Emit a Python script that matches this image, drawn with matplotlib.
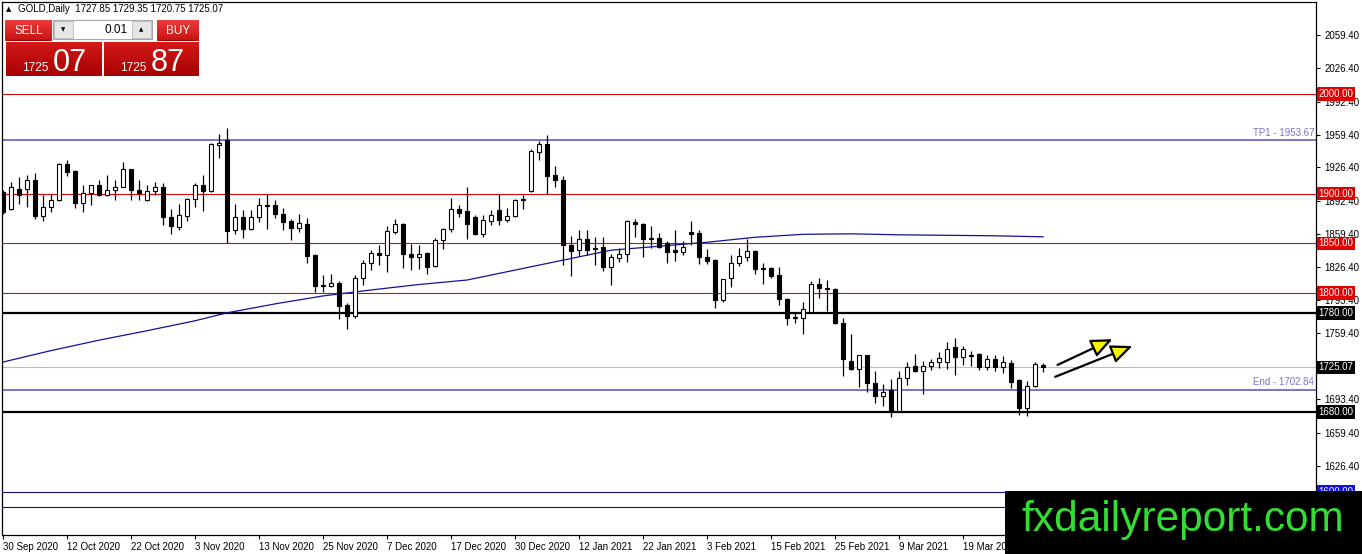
import matplotlib
matplotlib.use("Agg")
import matplotlib.pyplot as plt
import numpy as np
from matplotlib.patches import Rectangle
from matplotlib.colors import LinearSegmentedColormap

plt.rcParams['font.family'] = ['Liberation Sans', 'DejaVu Sans']

# daily OHLC, 30 Sep 2020 onwards
opens = [1901.7, 1884.2, 1905.0, 1905.0, 1913.5, 1877.8, 1886.5, 1893.3, 1929.6, 1922.5,
         1890.6, 1900.7, 1908.4, 1899.0, 1903.4, 1906.7, 1924.2, 1904.0, 1893.3, 1902.4,
         1906.1, 1876.5, 1866.4, 1877.1, 1895.0, 1909.1, 1902.7, 1948.4, 1953.9, 1863.0,
         1876.5, 1864.7, 1876.5, 1888.9, 1888.9, 1879.8, 1872.4, 1865.7, 1869.7, 1837.8,
         1808.0, 1806.8, 1810.2, 1788.3, 1776.5, 1815.2, 1830.4, 1840.5, 1838.4, 1861.3,
         1869.7, 1839.4, 1836.1, 1840.5, 1827.0, 1852.9, 1864.0, 1884.9, 1882.2, 1876.5,
         1859.6, 1872.4, 1883.2, 1873.1, 1877.5, 1893.6, 1902.7, 1942.0, 1949.8, 1918.5,
         1914.1, 1847.9, 1842.8, 1854.6, 1845.5, 1846.6, 1826.5, 1835.5, 1838.9, 1871.5,
         1869.8, 1855.4, 1855.0, 1850.0, 1842.9, 1841.6, 1861.8, 1860.1, 1836.5, 1833.2,
         1792.5, 1814.7, 1829.8, 1836.5, 1842.3, 1824.8, 1824.8, 1818.0, 1794.2, 1775.7,
         1775.0, 1780.7, 1808.6, 1804.6, 1804.2, 1769.3, 1732.0, 1723.8, 1737.1, 1709.3,
         1696.5, 1702.5, 1681.3, 1714.3, 1726.1, 1721.7, 1726.1, 1730.5, 1730.5, 1745.3,
         1735.2, 1737.8, 1738.5, 1725.4, 1733.8, 1725.4, 1729.4, 1712.0, 1684.0, 1706.6,
         1727.85]
highs = [1903.5, 1911.8, 1916.8, 1918.5, 1920.9, 1898.3, 1899.3, 1931.0, 1933.6, 1923.5,
         1908.4, 1909.0, 1913.5, 1918.5, 1914.1, 1932.0, 1925.2, 1914.1, 1908.4, 1911.8,
         1910.8, 1884.9, 1889.2, 1896.0, 1910.8, 1918.5, 1950.5, 1960.0, 1965.6, 1889.9,
         1883.9, 1883.9, 1896.0, 1899.3, 1893.9, 1885.5, 1874.8, 1879.8, 1875.8, 1838.8,
         1817.6, 1818.6, 1812.5, 1789.7, 1817.6, 1833.4, 1843.5, 1847.9, 1867.0, 1874.8,
         1870.5, 1849.5, 1847.9, 1841.1, 1855.6, 1865.7, 1896.0, 1888.2, 1906.1, 1878.1,
         1878.1, 1883.2, 1899.3, 1885.9, 1894.6, 1898.3, 1944.4, 1953.2, 1958.9, 1927.6,
         1917.5, 1857.0, 1863.0, 1863.0, 1856.3, 1856.4, 1838.9, 1845.6, 1873.2, 1874.2,
         1870.5, 1867.5, 1860.8, 1852.4, 1863.1, 1852.4, 1871.9, 1863.5, 1844.6, 1833.9,
         1814.3, 1837.9, 1845.6, 1854.0, 1842.9, 1830.5, 1826.1, 1826.1, 1794.5, 1780.0,
         1790.8, 1812.0, 1814.7, 1812.7, 1804.6, 1775.0, 1759.1, 1737.6, 1738.0, 1721.8,
         1708.0, 1713.6, 1721.0, 1730.5, 1738.9, 1731.8, 1733.8, 1740.5, 1750.7, 1754.7,
         1746.3, 1741.9, 1739.2, 1737.9, 1737.9, 1736.2, 1732.8, 1713.6, 1711.0, 1730.5,
         1729.35]
lows = [1879.8, 1883.2, 1889.9, 1886.5, 1874.4, 1872.4, 1881.5, 1892.6, 1917.8, 1885.5,
        1881.5, 1888.2, 1897.3, 1897.3, 1893.3, 1906.1, 1893.9, 1893.9, 1892.6, 1898.3,
        1868.0, 1859.6, 1863.0, 1872.4, 1886.5, 1882.5, 1901.7, 1935.3, 1850.5, 1859.6,
        1855.6, 1863.0, 1871.4, 1864.7, 1875.8, 1863.0, 1852.9, 1861.3, 1830.4, 1800.8,
        1800.8, 1805.8, 1773.8, 1763.8, 1774.9, 1807.5, 1822.6, 1827.7, 1821.0, 1859.6,
        1825.3, 1822.6, 1823.6, 1818.6, 1826.0, 1843.8, 1861.3, 1876.5, 1854.6, 1857.9,
        1856.3, 1868.0, 1868.0, 1871.4, 1876.5, 1884.9, 1902.0, 1933.6, 1900.0, 1906.7,
        1827.7, 1816.9, 1836.8, 1837.8, 1827.7, 1822.1, 1808.0, 1831.2, 1831.2, 1856.4,
        1836.2, 1845.0, 1845.6, 1830.5, 1832.2, 1838.2, 1848.3, 1828.8, 1828.8, 1784.4,
        1791.1, 1806.3, 1827.5, 1832.2, 1819.4, 1809.3, 1814.7, 1787.8, 1767.6, 1769.9,
        1758.8, 1780.0, 1794.5, 1781.7, 1768.9, 1716.0, 1722.8, 1705.6, 1700.2, 1689.1,
        1686.6, 1675.6, 1680.0, 1706.9, 1720.4, 1698.2, 1722.0, 1724.4, 1723.4, 1717.7,
        1727.8, 1726.1, 1722.7, 1722.0, 1721.0, 1719.4, 1704.2, 1677.3, 1676.6, 1705.2,
        1720.75]
closes = [1881.5, 1906.1, 1899.0, 1913.5, 1877.1, 1886.5, 1893.3, 1929.6, 1921.9, 1890.6,
          1900.7, 1908.4, 1899.0, 1904.0, 1906.1, 1924.2, 1904.0, 1900.7, 1902.4, 1906.7,
          1876.5, 1867.7, 1878.5, 1895.0, 1909.1, 1902.7, 1949.5, 1950.5, 1862.3, 1876.5,
          1864.7, 1876.5, 1888.9, 1887.6, 1879.8, 1871.4, 1865.7, 1870.4, 1837.1, 1806.8,
          1807.2, 1810.2, 1786.6, 1776.5, 1815.2, 1830.4, 1840.1, 1838.4, 1862.0, 1869.7,
          1839.4, 1836.1, 1839.4, 1826.0, 1852.9, 1864.0, 1884.9, 1880.8, 1869.7, 1859.6,
          1873.1, 1878.8, 1873.8, 1877.5, 1893.9, 1894.3, 1942.7, 1949.8, 1917.5, 1913.5,
          1848.5, 1842.1, 1853.9, 1843.5, 1844.2, 1826.5, 1836.2, 1839.6, 1872.5, 1869.2,
          1854.7, 1854.0, 1846.6, 1841.6, 1841.6, 1846.6, 1859.8, 1836.5, 1832.2, 1792.8,
          1813.7, 1829.8, 1837.2, 1842.3, 1824.4, 1823.8, 1817.0, 1794.2, 1775.0, 1774.3,
          1783.4, 1808.6, 1804.6, 1803.6, 1769.3, 1733.9, 1723.8, 1737.1, 1709.3, 1696.7,
          1699.9, 1681.3, 1714.3, 1725.4, 1721.0, 1726.1, 1730.5, 1734.5, 1743.9, 1735.8,
          1743.9, 1736.8, 1725.4, 1733.8, 1725.4, 1730.5, 1710.3, 1684.0, 1706.6, 1728.4,
          1725.07]

# moving average read at every 6th bar
ma_bars = [0, 6, 12, 18, 24, 28, 34, 40, 46, 52, 58, 64, 70, 76, 82, 88, 94, 100, 106, 112, 118, 124, 130]
ma_vals = [1730.5, 1742, 1752.5, 1762, 1772, 1780, 1789, 1797, 1803, 1808.5, 1813, 1823,
           1833, 1843, 1847, 1851, 1856, 1859, 1859.5, 1858.5, 1858, 1857.5, 1856.5]

date_labels = ['30 Sep 2020', '12 Oct 2020', '22 Oct 2020', '3 Nov 2020', '13 Nov 2020',
               '25 Nov 2020', '7 Dec 2020', '17 Dec 2020', '30 Dec 2020', '12 Jan 2021',
               '22 Jan 2021', '3 Feb 2021', '15 Feb 2021', '25 Feb 2021', '9 Mar 2021',
               '19 Mar 2021', '31 Mar 2021']
price_ticks = [2059.4, 2026.4, 1992.4, 1959.4, 1926.4, 1892.4, 1859.4, 1826.4, 1793.4,
               1759.4, 1693.4, 1659.4, 1626.4]

red_levels = [2000, 1900, 1850, 1800]
black_levels = [1780, 1680]
blue_levels = [1600, 1585]
tp1 = 1953.67
end_level = 1702.84
bid = 1725.07

W, H = 1362, 554
fig = plt.figure(figsize=(W / 100, H / 100), dpi=100)
fig.patch.set_facecolor('white')
ax = fig.add_axes([2 / W, (H - 535) / H, 1314 / W, 533 / H])
ax.set_xlim(-0.125, 164.125)
ax.set_ylim(1556.5, 2092.7)

purple = '#7a72cf'
for lv in red_levels:
    ax.axhline(lv, color='#d00c0c', lw=0.8, zorder=1)
for lv in black_levels:
    ax.axhline(lv, color='black', lw=1.6, zorder=1)
for lv in blue_levels:
    ax.axhline(lv, color='#10109a', lw=0.8, zorder=1)
ax.axhline(tp1, color=purple, lw=1.4, zorder=1)
ax.axhline(end_level, color=purple, lw=1.4, zorder=1)
ax.axhline(bid, color='#bdbdbd', lw=0.8, zorder=1)

ax.plot(ma_bars, ma_vals, color='#12129c', lw=0.9, zorder=2)

x = np.arange(len(opens))
o = np.array(opens)
c = np.array(closes)
ax.vlines(x, lows, highs, color='black', lw=0.9, zorder=3)
up = c >= o
body_h = np.maximum(np.abs(c - o), 0.4)
ax.bar(x, body_h, bottom=np.minimum(o, c), width=0.62,
       color=np.where(up, 'white', 'black'), edgecolor='black', linewidth=0.8, zorder=4)

ax.annotate('', xy=(139, 1754.7), xytext=(131.5, 1726.4),
            arrowprops=dict(arrowstyle='-|>,head_length=0.65,head_width=0.28',
                            fc='#f5f500', ec='black', lw=1.6, mutation_scale=20), zorder=6)
ax.annotate('', xy=(141.5, 1747.6), xytext=(131.2, 1714.6),
            arrowprops=dict(arrowstyle='-|>,head_length=0.65,head_width=0.28',
                            fc='#f5f500', ec='black', lw=1.6, mutation_scale=20), zorder=6)

ytr = ax.get_yaxis_transform()
ax.text(0.9985, tp1 + 2.5, 'TP1 - 1953.67', transform=ytr, ha='right', va='bottom',
        color=purple, fontsize=7)
ax.text(0.9985, end_level + 2.5, 'End - 1702.84', transform=ytr, ha='right', va='bottom',
        color=purple, fontsize=7)

ax.yaxis.tick_right()
ax.set_yticks(price_ticks)
ax.set_yticklabels(['%.2f' % p for p in price_ticks])
ax.tick_params(axis='y', length=3, width=0.8, pad=3, labelsize=7, colors='black')
ax.set_xticks(np.arange(len(date_labels)) * 8)
ax.set_xticklabels(date_labels, ha='left')
ax.tick_params(axis='x', length=3, width=0.8, pad=2, labelsize=7)
for s in ax.spines.values():
    s.set_color('black')
    s.set_linewidth(0.9)

def price_box(level, text, fc):
    ax.text(1.0018, level, text, transform=ytr, ha='left', va='center', color='white',
            fontsize=7, zorder=7, clip_on=False,
            bbox=dict(boxstyle='square,pad=0.18', fc=fc, ec='none'))

for lv in red_levels:
    price_box(lv, '%.2f' % lv, '#e00000')
for lv in black_levels:
    price_box(lv, '%.2f' % lv, 'black')
price_box(bid, '%.2f' % bid, 'black')
price_box(1600, '1600.00', '#1010e0')

# overlay in pixel coordinates: trading panel and watermark
ov = fig.add_axes([0, 0, 1, 1], zorder=10)
ov.patch.set_alpha(0)
ov.axis('off')

def grad_box(x0, y0, x1, y1, top, bottom):
    cmap = LinearSegmentedColormap.from_list('g', [top, bottom])
    ov.imshow(np.linspace(0, 1, 32).reshape(-1, 1), extent=(x0, x1, y1, y0),
              cmap=cmap, aspect='auto', interpolation='bilinear')

ov.text(6, 9.5, '\u25b2', fontsize=5, va='center', ha='left', family=['DejaVu Sans'])
ov.text(18, 9.5, 'GOLD,Daily  1727.85 1729.35 1720.75 1725.07', fontsize=7, va='center')

grad_box(5, 20, 52, 41, '#ee3a3a', '#c81212')
grad_box(157, 20, 199, 41, '#ee3a3a', '#c81212')
ov.plot([9, 48], [40, 40], color='#8a0000', lw=0.8)
ov.plot([161, 195], [40, 40], color='#8a0000', lw=0.8)
ov.text(28.5, 30.5, 'SELL', color='white', fontsize=8.5, ha='center', va='center')
ov.text(178, 30.5, 'BUY', color='white', fontsize=8.5, ha='center', va='center')
ov.add_patch(Rectangle((53, 20), 99, 19, fc='white', ec='#a8a8a8', lw=0.8))
ov.add_patch(Rectangle((54, 21), 19, 17, fc='#e6e6e6', ec='#b8b8b8', lw=0.6))
ov.add_patch(Rectangle((132, 21), 19, 17, fc='#e6e6e6', ec='#b8b8b8', lw=0.6))
ov.text(63.5, 29.5, '\u25bc', fontsize=4, ha='center', va='center', family=['DejaVu Sans'])
ov.text(141.5, 29.5, '\u25b2', fontsize=4, ha='center', va='center', family=['DejaVu Sans'])
ov.text(128, 30, '0.01', fontsize=8.5, ha='right', va='center')

grad_box(6, 42, 102, 76, '#d41818', '#a80202')
grad_box(104, 42, 199, 76, '#d41818', '#a80202')
ov.text(22, 71, '1725', color='white', fontsize=8.5, ha='left', va='baseline')
ov.text(53, 71, '07', color='white', fontsize=22, ha='left', va='baseline')
ov.text(120, 71, '1725', color='white', fontsize=8.5, ha='left', va='baseline')
ov.text(151, 71, '87', color='white', fontsize=22, ha='left', va='baseline')

ov.add_patch(Rectangle((1005, 491), W - 1005, H - 491, fc='black', ec='none'))
ov.text(1183, 520, 'fxdailyreport.com', color='#33dd33', fontsize=30.5,
        ha='center', va='center')

ov.set_xlim(0, W)
ov.set_ylim(H, 0)

fig.savefig('out.png', dpi=100)
